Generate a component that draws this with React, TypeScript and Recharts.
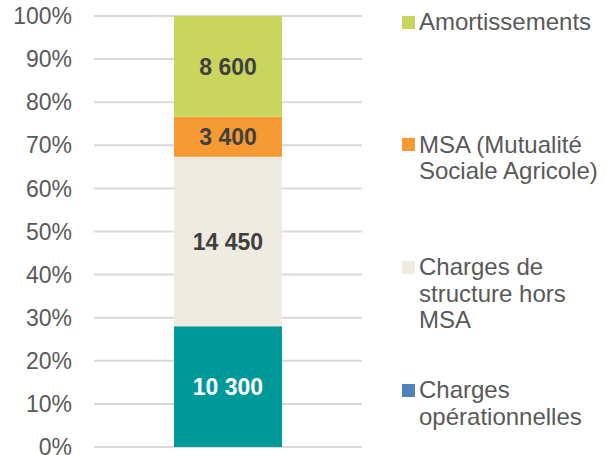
import { BarChart, Bar, XAxis, YAxis, CartesianGrid, LabelList } from "recharts";

// Stack order bottom -> top
const seriesKeys = ["op", "structure", "msa", "amort"];
const seriesValues = [10300, 14450, 3400, 8600];
const barColors = ["#009999", "#EEECE1", "#F79A34", "#C9D65E"];
const labelColors = ["#FFFFFF", "#404040", "#404040", "#404040"];

// Legend, top -> bottom (the blue swatch does not match the teal bar in the source)
const legendLabels = [
  "Amortissements",
  "MSA (Mutualité Sociale Agricole)",
  "Charges de structure hors MSA",
  "Charges opérationnelles",
];
const legendColors = ["#C9D65E", "#F79A34", "#EEECE1", "#4F81BD"];

const yTicks = [0, 0.1, 0.2, 0.3, 0.4, 0.5, 0.6, 0.7, 0.8, 0.9, 1];

const row: Record<string, number | string> = { name: "" };
seriesKeys.forEach((k, i) => (row[k] = seriesValues[i]));
const data = [row];

const FONT = "'Liberation Sans', Arial, sans-serif";
const fmt = (v: number) => String(v).replace(/\B(?=(\d{3})+(?!\d))/g, " ");

export default function App() {
  return (
    <div style={{ position: "absolute", left: 0, top: 0, width: 607, height: 455, fontFamily: FONT, background: "#fff" }}>
      <BarChart
        width={607}
        height={455}
        data={data}
        stackOffset="expand"
        margin={{ top: 16, right: 245, bottom: 8, left: 0 }}
      >
        <CartesianGrid vertical={false} stroke="#D9D9D9" strokeWidth={2} />
        <XAxis dataKey="name" hide />
        <YAxis
          width={94}
          domain={[0, 1]}
          ticks={yTicks}
          tickFormatter={(v: number) => `${Math.round(v * 100)}%`}
          axisLine={false}
          tickLine={false}
          tickSize={0}
          tickMargin={22}
          interval={0}
          tick={{ fill: "#595959", fontSize: 23, fontFamily: FONT }}
        />
        {seriesKeys.map((k, i) => (
          <Bar key={k} dataKey={k} stackId="a" fill={barColors[i]} barSize={108} isAnimationActive={false}>
            <LabelList
              dataKey={k}
              position="center"
              formatter={(v: any) => fmt(Number(v))}
              style={{ fill: labelColors[i], fontSize: 23, fontWeight: "bold", fontFamily: FONT }}
            />
          </Bar>
        ))}
      </BarChart>

      {legendLabels.map((label, i) => (
        <div
          key={label}
          style={{
            position: "absolute",
            left: 402,
            top: 9 + i * 122.7,
            display: "flex",
            alignItems: "flex-start",
            color: "#595959",
            fontSize: 24,
            lineHeight: "26.5px",
          }}
        >
          <span style={{ width: 13, height: 13, marginTop: 6.5, background: legendColors[i], flex: "none" }} />
          <span style={{ marginLeft: 4, width: 186 }}>{label}</span>
        </div>
      ))}
    </div>
  );
}
